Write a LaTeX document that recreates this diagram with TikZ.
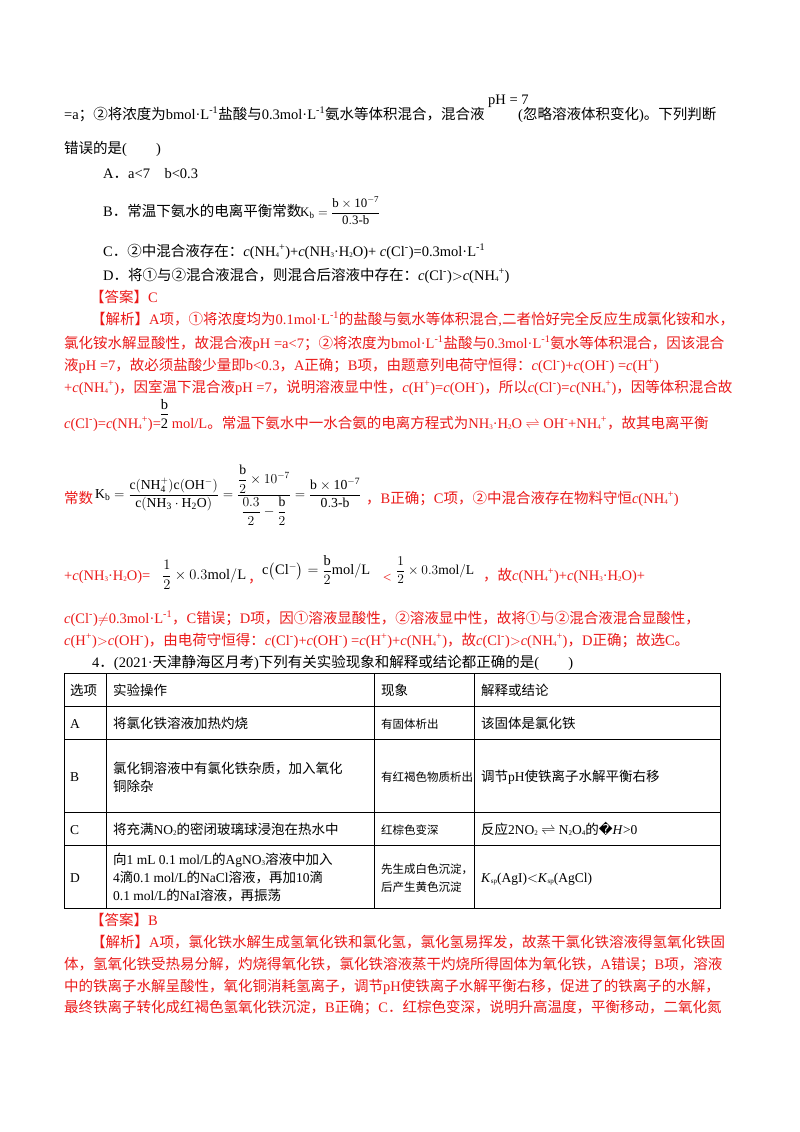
\documentclass[tikz,border=0pt]{standalone}
\usepackage{fontspec}
\usepackage{amsmath}
\usepackage{graphicx}
\setmainfont{Liberation Serif}
\newfontfamily\cjkfont{Noto Sans CJK SC}
\newfontfamily\dvfont{DejaVu Sans}
\newcommand\latinfont{\rmfamily}
\XeTeXinterchartokenstate=1
\newXeTeXintercharclass\cjkclass
\newcount\cc
\cc="3000 \loop \XeTeXcharclass\cc=\cjkclass \advance\cc 1 \ifnum\cc<"A000 \repeat
\cc="FF00 \loop \XeTeXcharclass\cc=\cjkclass \advance\cc 1 \ifnum\cc<"FFF0 \repeat
\cc="2460 \loop \XeTeXcharclass\cc=\cjkclass \advance\cc 1 \ifnum\cc<"2500 \repeat
\XeTeXinterchartoks 0 \cjkclass = {\cjkfont}
\XeTeXinterchartoks 4095 \cjkclass = {\cjkfont}
\XeTeXinterchartoks \cjkclass 0 = {\latinfont}
\newcommand\su[1]{\textsuperscript{#1}}
\newcommand\dn[1]{\raisebox{-0.25ex}{\scriptsize #1}}
\newcommand\ci{\latinfont\textit{c}}
\newcommand\lf{\latinfont}
\definecolor{ans}{RGB}{235,25,25}
\begin{document}
\begin{tikzpicture}[x=1pt,y=-1pt,
  t/.style={anchor=base west,inner sep=0pt,font=\fontsize{14.5}{17}\selectfont},
  tb/.style={anchor=base west,inner sep=0pt,font=\fontsize{13.5}{17}\selectfont},
  tn/.style={anchor=base west,inner sep=0pt,font=\fontsize{11.5}{17}\selectfont},
  m/.style={anchor=west,inner sep=0pt,font=\fontsize{14.5}{17}\selectfont},
  r/.style={t,text=ans}]
\useasboundingbox (0,0) rectangle (800,1132);
\fill[white] (0,0) rectangle (800,1132);
\node[t] (l1) at (64,119) {=a；②将浓度为\lf bmol·L\su{-1}盐酸与\lf 0.3mol·L\su{-1}氨水等体积混合，混合液};
\node[t] (ph) at (488,104) {pH = 7};
\node[t] (l1b) at (518,119) {(忽略溶液体积变化)。下列判断};
\node[t] (l2) at (64,153) {错误的是(\quad\quad)};
\node[t] (oa) at (103,178) {A．\lf a<7\quad b<0.3};
\node[t] (ob) at (103,216) {B．常温下氨水的电离平衡常数};
\node[m] (obf) at (300,211) {\resizebox{80pt}{!}{$\mathrm{K_b}=\dfrac{\mathrm{b\times10^{-7}}}{\mathrm{0.3\text{-}b}}$}};
\node[t] (oc) at (103,256) {C．②中混合液存在：\ci(NH\dn4\su+)+\ci(NH\dn3·H\dn2O)+ \ci(Cl\su-)=0.3mol·L\su{-1}};
\node[t] (od) at (103,280) {D．将①与②混合液混合，则混合后溶液中存在：\ci(Cl\su-)$>$\ci(NH\dn4\su+)};
\node[r] (a1) at (90,302) {【答案】\lf C};
\node[r] (j1) at (91,324) {【解析】\lf A项，①将浓度均为\lf 0.1mol·L\su{-1}的盐酸与氨水等体积混合,二者恰好完全反应生成氯化铵和水，};
\node[r] (j2) at (64,348) {氯化铵水解显酸性，故混合液\lf pH =a<7；②将浓度为\lf bmol·L\su{-1}盐酸与\lf 0.3mol·L\su{-1}氨水等体积混合，因该混合};
\node[r] (j3) at (64,370) {液\lf pH =7，故必须盐酸少量即\lf b<0.3，\lf A正确；\lf B项，由题意列电荷守恒得：\ci(Cl\su-)+\ci(OH\su-) =\ci(H\su+)};
\node[r] (j4) at (64,392) {+\ci(NH\dn4\su+)，因室温下混合液\lf pH =7，说明溶液显中性，\ci(H\su+)=\ci(OH\su-)，所以\ci(Cl\su-)=\ci(NH\dn4\su+)，因等体积混合故};
\node[r] (j5) at (64,428) {\ci(Cl\su-)=\ci(NH\dn4\su+)=\textcolor{black}{\rlap{\raisebox{19pt}{b}}\rlap{\rule[13pt]{7pt}{0.6pt}}2} mol/L。常温下氨水中一水合氨的电离方程式为\lf NH\dn3·H\dn2O $\rightleftharpoons$ OH\su-+NH\dn4\su+，故其电离平衡};
\node[r] (j6a) at (64,503) {常数};
\node[m] (kb) at (95,495) {\resizebox{266pt}{!}{$\mathrm{K_b}=\dfrac{\mathrm{c(NH_4^+)c(OH^-)}}{\mathrm{c(NH_3\cdot H_2O)}}=\dfrac{\dfrac{\mathrm{b}}{2}\times10^{-7}}{\dfrac{0.3}{2}-\dfrac{\mathrm{b}}{2}}=\dfrac{\mathrm{b\times10^{-7}}}{\mathrm{0.3\text{-}b}}$}};
\node[r] (j6b) at (366,503) {，\lf B正确；\lf C项，②中混合液存在物料守恒\ci(NH\dn4\su+)};
\node[r] (j7a) at (64,580) {+\ci(NH\dn3·H\dn2O)=};
\node[m] (f1) at (162,575) {\resizebox{84pt}{!}{$\dfrac{1}{2}\times0.3\mathrm{mol/L}$}};
\node[r] (cm) at (248,582) {，};
\node[m] (f2) at (262,570) {\resizebox{108pt}{!}{$\mathrm{c\big(Cl^-\big)}=\dfrac{\mathrm{b}}{2}\mathrm{mol/L}$}};
\node[r] (lt) at (383,582) {<};
\node[m] (f3) at (396,570) {\resizebox{78pt}{!}{$\dfrac{1}{2}\times0.3\mathrm{mol/L}$}};
\node[r] (j7b) at (483,580) {，故\ci(NH\dn4\su+)+\ci(NH\dn3·H\dn2O)+};
\node[r] (j8) at (64,623) {\ci(Cl\su-)$\neq$0.3mol·L\su{-1}，\lf C错误；\lf D项，因①溶液显酸性，②溶液显中性，故将①与②混合液混合显酸性，};
\node[r] (j9) at (64,645) {\ci(H\su+)$>$\ci(OH\su-)，由电荷守恒得：\ci(Cl\su-)+\ci(OH\su-) =\ci(H\su+)+\ci(NH\dn4\su+)，故\ci(Cl\su-)$>$\ci(NH\dn4\su+)，\lf D正确；故选\lf C。};
\node[t] (q4) at (92,667) {4．\lf (2021·天津静海区月考)下列有关实验现象和解释或结论都正确的是(\quad\quad)};
% table
\draw[line width=0.9pt] (64,673) rectangle (720,908);
\foreach \yy in {706,739,812,845} \draw[line width=0.7pt] (64,\yy) -- (720,\yy);
\foreach \xx in {106,374,474} \draw[line width=0.7pt] (\xx,673) -- (\xx,908);
\node[tb] (h1) at (70,695) {选项};
\node[tb] (h2) at (113,695) {实验操作};
\node[tb] (h3) at (381,695) {现象};
\node[tb] (h4) at (481,695) {解释或结论};
\node[tb] (ra) at (70,728) {A};
\node[tb] (ra2) at (113,728) {将氯化铁溶液加热灼烧};
\node[tn] (ra3) at (381,728) {有固体析出};
\node[tb] (ra4) at (481,728) {该固体是氯化铁};
\node[tb] (rb) at (70,781) {B};
\node[tb] (rb2) at (113,773) {氯化铜溶液中有氯化铁杂质，加入氧化};
\node[tb] (rb2b) at (113,791) {铜除杂};
\node[tn] (rb3) at (381,781) {有红褐色物质析出};
\node[tb] (rb4) at (481,781) {调节\lf pH使铁离子水解平衡右移};
\node[tb] (rc) at (70,834) {C};
\node[tb] (rc2) at (113,834) {将充满\lf NO\dn2的密闭玻璃球浸泡在热水中};
\node[tn] (rc3) at (381,834) {红棕色变深};
\node[tb] (rc4) at (481,834) {反应\lf 2NO\dn2 $\rightleftharpoons$ N\dn2O\dn4的{\dvfont �}\lf\textit{H}>0};
\node[tb] (rd) at (70,882) {D};
\node[tb] (rd2) at (113,864) {向\lf 1 mL 0.1 mol/L的\lf AgNO\dn3溶液中加入};
\node[tb] (rd2b) at (113,882) {4滴\lf 0.1 mol/L的\lf NaCl溶液，再加\lf 10滴};
\node[tb] (rd2c) at (113,900) {0.1 mol/L的\lf NaI溶液，再振荡};
\node[tn] (rd3) at (381,873) {先生成白色沉淀，};
\node[tn] (rd3b) at (381,891) {后产生黄色沉淀};
\node[tb] (rd4) at (481,882) {\textit{K}\dn{sp}(AgI)$<$\textit{K}\dn{sp}(AgCl)};
\node[r] (a2) at (90,925) {【答案】\lf B};
\node[r] (k1) at (91,947) {【解析】\lf A项，氯化铁水解生成氢氧化铁和氯化氢，氯化氢易挥发，故蒸干氯化铁溶液得氢氧化铁固};
\node[r] (k2) at (64,969) {体，氢氧化铁受热易分解，灼烧得氧化铁，氯化铁溶液蒸干灼烧所得固体为氧化铁，\lf A错误；\lf B项，溶液};
\node[r] (k3) at (64,991) {中的铁离子水解呈酸性，氧化铜消耗氢离子，调节\lf pH使铁离子水解平衡右移，促进了的铁离子的水解，};
\node[r] (k4) at (64,1012) {最终铁离子转化成红褐色氢氧化铁沉淀，\lf B正确；\lf C．红棕色变深，说明升高温度，平衡移动，二氧化氮};
\end{tikzpicture}
\end{document}
